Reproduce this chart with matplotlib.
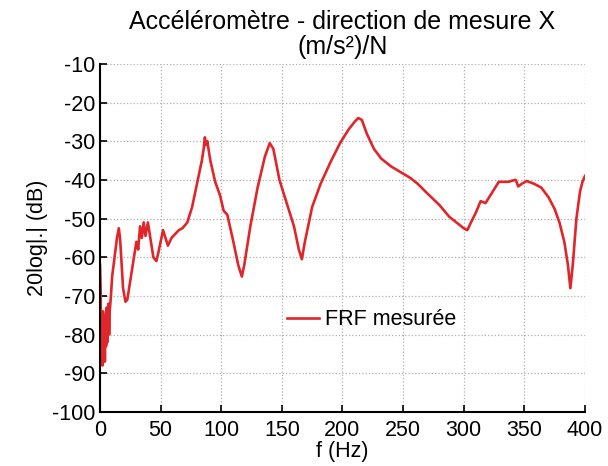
import matplotlib
matplotlib.use("Agg")
import matplotlib.pyplot as plt

plt.rcParams['font.family'] = ['Liberation Sans', 'DejaVu Sans']
plt.rcParams['axes.unicode_minus'] = False

freq = [0, 0.5, 1, 1.5, 2, 2.5, 3, 3.5, 4, 4.5, 5, 5.5, 6, 6.5, 7, 7.5, 8, 9, 10, 12, 14, 15.5, 16.5, 17.5, 19, 21, 22.5, 25, 28, 30, 31.5, 33, 34.5, 36, 37.5, 39.5, 41.5, 44, 46.5, 48, 50, 52, 54, 56, 59, 62, 65, 68, 72, 76, 80, 84, 85.5, 86.5, 87.5, 88.5, 91, 95, 99, 102, 105, 110, 114, 117, 119, 124, 130, 136, 140, 143, 148, 154, 160, 164, 166.5, 169, 175, 182, 190, 198, 205, 210, 213, 216, 220, 226, 232, 240, 248, 256, 262, 270, 280, 288, 294, 300, 303, 306, 310, 314, 318, 322, 326, 329, 333, 337, 340, 343, 345, 348, 352, 358, 364, 370, 375, 379, 383, 386, 388, 390, 393, 396, 398, 400]
level = [-62, -68, -84, -76, -88, -74, -86, -75, -87, -77, -83, -73, -82, -78, -72, -80, -74, -70, -65, -60, -55, -52.5, -55, -60, -68, -71.5, -71, -66, -60, -56, -58, -52, -55, -51, -54.5, -51, -55, -60, -61, -59, -56, -53, -55, -57, -55, -54, -53, -52.5, -51, -47, -41, -35, -32, -29, -31, -30, -35, -40.5, -44, -48, -49, -56, -62, -65, -62, -52, -42, -34, -30.5, -32, -40, -46, -52, -58, -60.5, -56, -47, -41, -35.5, -30.5, -27, -25, -24, -24.5, -28, -32, -34.5, -36.5, -38, -39.5, -41, -43.5, -46.5, -49.5, -51, -52.5, -53, -51, -48.5, -45.5, -46, -44, -42, -40.5, -40.5, -40.5, -40.2, -40, -41.7, -41, -40.3, -41, -42, -44.5, -47.5, -51, -56, -62, -68, -62, -50, -43, -40.5, -39]

fig = plt.figure(figsize=(6.08, 4.66), dpi=100)
ax = fig.add_axes([0.1645, 0.116, 0.7975, 0.747])
ax.plot(freq, level, color='#e0262a', lw=1.9, label='FRF mesurée')
ax.set_xlim(0, 400)
ax.set_ylim(-100, -10)
ax.set_xticks(range(0, 401, 50))
ax.set_yticks(range(-100, -9, 10))
ax.grid(True, linestyle=':', color='#b0b0b0', lw=0.9)
ax.spines['top'].set_visible(False)
ax.spines['right'].set_visible(False)
ax.spines['left'].set_linewidth(1.5)
ax.spines['bottom'].set_linewidth(1.5)
ax.tick_params(direction='in', labelsize=15.5, length=5, width=1.2)
ax.tick_params(axis='x', pad=6)
ax.tick_params(axis='y', pad=3.5)
ax.set_xlabel('f (Hz)', fontsize=15.5, labelpad=0)
ax.set_ylabel('20log|.| (dB)', fontsize=15.5, labelpad=3)
ax.set_title('Accéléromètre - direction de mesure X\n(m/s²)/N', fontsize=18, linespacing=1.05, pad=7)
ax.legend(loc='center left', bbox_to_anchor=(0.345, 0.265), frameon=False, fontsize=15.5, handlelength=1.5, handletextpad=0.3)
fig.savefig('out.png', dpi=100)
